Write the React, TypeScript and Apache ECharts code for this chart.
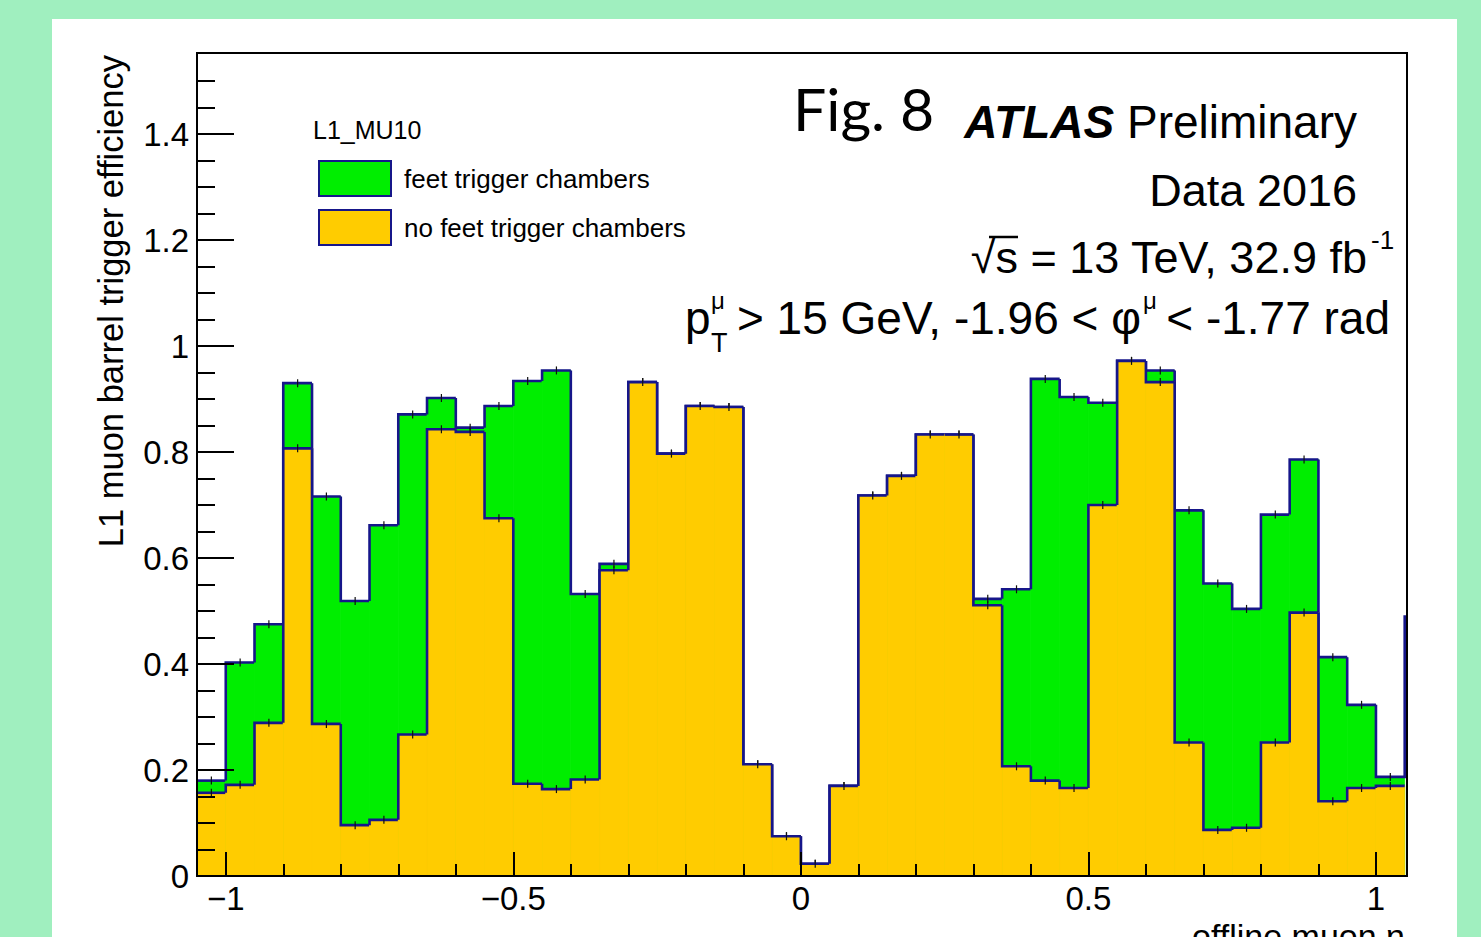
import React, { useEffect, useRef } from "react";
import * as echarts from "echarts";

// Bin edges in offline muon eta
const binEdges = [
  -1.05, -1.0, -0.95, -0.9, -0.85, -0.8, -0.75, -0.7, -0.65, -0.6, -0.55,
  -0.5, -0.45, -0.4, -0.35, -0.3, -0.25, -0.2, -0.15, -0.1, -0.05,
  0.0, 0.05, 0.1, 0.15, 0.2, 0.25, 0.3, 0.35, 0.4, 0.45,
  0.5, 0.55, 0.6, 0.65, 0.7, 0.75, 0.8, 0.85, 0.9, 0.95, 1.0, 1.05,
];

// L1 efficiency with feet trigger chambers (green)
const feetEff = [
  0.18, 0.403, 0.475, 0.93, 0.716, 0.519, 0.662, 0.871, 0.902, 0.846, 0.887,
  0.934, 0.954, 0.532, 0.589, 0.932, 0.797, 0.887, 0.885, 0.211, 0.075,
  0.023, 0.17, 0.718, 0.755, 0.833, 0.833, 0.523, 0.541, 0.938, 0.904,
  0.893, 0.972, 0.954, 0.69, 0.552, 0.504, 0.682, 0.786, 0.413, 0.323, 0.187,
];
const feetOverflow = 0.492;

// L1 efficiency without feet trigger chambers (yellow)
const noFeetEff = [
  0.157, 0.172, 0.289, 0.807, 0.287, 0.096, 0.106, 0.267, 0.843, 0.838, 0.675,
  0.174, 0.164, 0.182, 0.577, 0.932, 0.797, 0.887, 0.885, 0.211, 0.075,
  0.023, 0.17, 0.718, 0.755, 0.833, 0.833, 0.511, 0.207, 0.18, 0.166,
  0.7, 0.972, 0.932, 0.252, 0.087, 0.091, 0.252, 0.497, 0.141, 0.166, 0.17,
];
const noFeetOverflow = 0.17;

const xMajorTicks = [-1, -0.5, 0, 0.5, 1];
const xMinorTicks = [-0.9, -0.8, -0.7, -0.6, -0.4, -0.3, -0.2, -0.1, 0.1, 0.2, 0.3, 0.4, 0.6, 0.7, 0.8, 0.9];
const yMajorTicks = [0, 0.2, 0.4, 0.6, 0.8, 1, 1.2, 1.4];
const yMinorTicks = [
  0.05, 0.1, 0.15, 0.25, 0.3, 0.35, 0.45, 0.5, 0.55, 0.65, 0.7, 0.75, 0.85, 0.9, 0.95,
  1.05, 1.1, 1.15, 1.25, 1.3, 1.35, 1.45, 1.5,
];

const seriesNames = ["feet trigger chambers", "no feet trigger chambers"];

const GREEN = "#00ee00";
const YELLOW = "#ffcc00";
const NAVY = "#16168a";
const FONT = "Liberation Sans, Arial, Helvetica, sans-serif";

function histSeries(name: string, values: number[], overflow: number, color: string) {
  const data = values.map((v, i) => [
    binEdges[i],
    binEdges[i + 1],
    v,
    i === 0 ? v : values[i - 1],
    i === values.length - 1 ? overflow : v,
  ]);
  return {
    type: "custom",
    name,
    clip: true,
    data,
    itemStyle: { color, borderColor: NAVY, borderWidth: 2 },
    encode: { x: [0, 1], y: 2 },
    renderItem: (_params: any, api: any) => {
      const x0 = api.value(0);
      const x1 = api.value(1);
      const y = api.value(2);
      const py = api.value(3);
      const ny = api.value(4);
      const bl = api.coord([x0, 0]);
      const tr = api.coord([x1, y]);
      const tl = api.coord([x0, y]);
      const pp = api.coord([x0, py]);
      const nn = api.coord([x1, ny]);
      const mid = api.coord([(x0 + x1) / 2, y]);
      return {
        type: "group",
        children: [
          {
            type: "rect",
            shape: { x: bl[0], y: tr[1], width: tr[0] - bl[0], height: bl[1] - tr[1] },
            style: { fill: color, stroke: color, lineWidth: 0.8 },
          },
          {
            type: "polyline",
            shape: { points: [pp, tl, tr, nn] },
            style: { stroke: NAVY, lineWidth: 2.6, fill: "none" },
          },
          {
            type: "line",
            shape: { x1: mid[0], y1: mid[1] - 4, x2: mid[0], y2: mid[1] + 4 },
            style: { stroke: "#111", lineWidth: 1.2 },
          },
        ],
      };
    },
  };
}

const fmtX = (v: number) => (v < 0 ? "\u2212" + Math.abs(v) : String(v));

export default function App() {
  const ref = useRef<HTMLDivElement>(null);
  useEffect(() => {
    if (!ref.current) return;
    const chart = echarts.init(ref.current, undefined, { renderer: "svg" });
    const xRange = { min: -1.05, max: 1.054 };
    const yRange = { min: 0, max: 1.553 };
    const noLine = { show: false, onZero: false };
    chart.setOption({
      animation: false,
      backgroundColor: "transparent",
      grid: { left: 197, top: 53, width: 1210, height: 823, containLabel: false },
      xAxis: [
        {
          type: "value",
          ...xRange,
          position: "bottom",
          z: 5,
          axisLine: noLine,
          splitLine: { show: false },
          axisTick: { show: true, inside: true, length: 24, customValues: xMajorTicks, lineStyle: { color: "#000", width: 2 } },
          axisLabel: { customValues: xMajorTicks, formatter: fmtX, fontSize: 33, color: "#000", fontFamily: FONT, margin: 6 },
        },
        {
          type: "value",
          ...xRange,
          position: "bottom",
          z: 5,
          axisLine: noLine,
          splitLine: { show: false },
          axisLabel: { show: false },
          axisTick: { show: true, inside: true, length: 12, customValues: xMinorTicks, lineStyle: { color: "#000", width: 2 } },
        },
      ],
      yAxis: [
        {
          type: "value",
          ...yRange,
          position: "left",
          z: 5,
          axisLine: noLine,
          splitLine: { show: false },
          axisTick: { show: true, inside: true, length: 37, customValues: yMajorTicks, lineStyle: { color: "#000", width: 2 } },
          axisLabel: { customValues: yMajorTicks, fontSize: 33, color: "#000", fontFamily: FONT, margin: 8 },
        },
        {
          type: "value",
          ...yRange,
          position: "left",
          z: 5,
          axisLine: noLine,
          splitLine: { show: false },
          axisLabel: { show: false },
          axisTick: { show: true, inside: true, length: 18, customValues: yMinorTicks, lineStyle: { color: "#000", width: 2 } },
        },
      ],
      legend: {
        orient: "vertical",
        left: 318,
        top: 160,
        padding: 0,
        itemWidth: 72,
        itemHeight: 35,
        itemGap: 12,
        icon: "rect",
        selectedMode: false,
        textStyle: { fontSize: 26, color: "#000", fontFamily: FONT, padding: [0, 0, 0, 8] },
        data: [
          { name: seriesNames[0], itemStyle: { color: GREEN, borderColor: NAVY, borderWidth: 2 } },
          { name: seriesNames[1], itemStyle: { color: YELLOW, borderColor: NAVY, borderWidth: 2 } },
        ],
      },
      series: [
        histSeries(seriesNames[0], feetEff, feetOverflow, GREEN),
        histSeries(seriesNames[1], noFeetEff, noFeetOverflow, YELLOW),
      ],
      graphic: [
        { type: "rect", z: -10, shape: { x: 52, y: 19, width: 1405, height: 940 }, style: { fill: "#ffffff" } },
        { type: "rect", z: 100, shape: { x: 197, y: 53, width: 1210, height: 823 }, style: { fill: "none", stroke: "#000", lineWidth: 2 } },
        {
          type: "text", z: 100, x: 111, y: 55, rotation: Math.PI / 2,
          style: { text: "L1 muon barrel trigger efficiency", fontSize: 34.5, fontFamily: FONT, fill: "#000", align: "right", verticalAlign: "middle" },
        },
        {
          type: "text", z: 100, x: 1405, y: 919,
          style: { text: "offline muon \u03b7", fontSize: 34, fontFamily: FONT, fill: "#000", align: "right", verticalAlign: "top" },
        },
        {
          type: "text", z: 100, x: 313, y: 130,
          style: { text: "L1_MU10", fontSize: 25, fontFamily: FONT, fill: "#000", align: "left", verticalAlign: "middle" },
        },
        {
          type: "text", z: 100, x: 793, y: 108,
          style: { text: "Fig. 8", fontSize: 59, fontFamily: "Lato, Open Sans, sans-serif", fill: "#000", align: "left", verticalAlign: "middle" },
        },
        {
          type: "text", z: 100, x: 1357, y: 122,
          style: {
            text: "{a|ATLAS} Preliminary",
            fontSize: 46, fontFamily: FONT, fill: "#000", align: "right", verticalAlign: "middle",
            rich: { a: { fontSize: 46, fontFamily: FONT, fontStyle: "italic", fontWeight: "bold", fill: "#000" } },
          },
        },
        {
          type: "text", z: 100, x: 1357, y: 190,
          style: { text: "Data 2016", fontSize: 45, fontFamily: FONT, fill: "#000", align: "right", verticalAlign: "middle" },
        },
        {
          type: "text", z: 100, x: 1367, y: 257,
          style: { text: "\u221as = 13 TeV, 32.9 fb", fontSize: 45, fontFamily: FONT, fill: "#000", align: "right", verticalAlign: "middle" },
        },
        { type: "line", z: 100, shape: { x1: 989, y1: 237, x2: 1018, y2: 237 }, style: { stroke: "#000", lineWidth: 2.5 } },
        {
          type: "text", z: 100, x: 1371, y: 240,
          style: { text: "-1", fontSize: 26, fontFamily: FONT, fill: "#000", align: "left", verticalAlign: "middle" },
        },
        {
          type: "text", z: 100, x: 685, y: 318,
          style: { text: "p", fontSize: 46, fontFamily: FONT, fill: "#000", align: "left", verticalAlign: "middle" },
        },
        {
          type: "text", z: 100, x: 711, y: 343,
          style: { text: "T", fontSize: 27, fontFamily: FONT, fill: "#000", align: "left", verticalAlign: "middle" },
        },
        {
          type: "text", z: 100, x: 711, y: 300,
          style: { text: "\u03bc", fontSize: 24, fontFamily: FONT, fill: "#000", align: "left", verticalAlign: "middle" },
        },
        {
          type: "text", z: 100, x: 1141, y: 318,
          style: { text: "> 15 GeV, -1.96 < \u03c6", fontSize: 46, fontFamily: FONT, fill: "#000", align: "right", verticalAlign: "middle" },
        },
        {
          type: "text", z: 100, x: 1143, y: 300,
          style: { text: "\u03bc", fontSize: 24, fontFamily: FONT, fill: "#000", align: "left", verticalAlign: "middle" },
        },
        {
          type: "text", z: 100, x: 1390, y: 318,
          style: { text: "< -1.77 rad", fontSize: 46, fontFamily: FONT, fill: "#000", align: "right", verticalAlign: "middle" },
        },
      ],
    });
    return () => chart.dispose();
  }, []);
  return (
    <div style={{ position: "fixed", left: 0, top: 0, width: 1481, height: 937, background: "#a0efbf", overflow: "hidden" }}>
      <div ref={ref} style={{ width: 1481, height: 937 }} />
    </div>
  );
}
